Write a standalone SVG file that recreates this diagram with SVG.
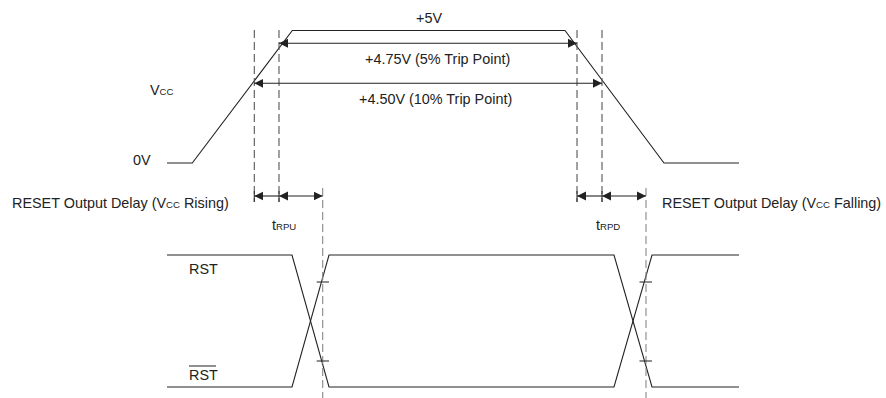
<svg xmlns="http://www.w3.org/2000/svg" width="886" height="398" viewBox="0 0 886 398">
<style>
text{font-family:"Liberation Sans",Arial,sans-serif;font-size:14.4px;fill:#222}
.sub{font-size:9.6px}
.wave{fill:none;stroke:#222;stroke-width:1.1}
.dash{fill:none;stroke:#555;stroke-width:1.1;stroke-dasharray:8,4}
.dash2{fill:none;stroke:#888;stroke-width:1.1;stroke-dasharray:8,4}
.dim{fill:none;stroke:#222;stroke-width:1.1}
.tick{fill:none;stroke:#333;stroke-width:1.1}
</style>
<defs>
<marker id="ah" viewBox="0 0 10 10" refX="10" refY="5" markerWidth="9" markerHeight="10" markerUnits="userSpaceOnUse" orient="auto-start-reverse">
<path d="M0,0 L10,5 L0,10 Z" fill="#222"/>
</marker>
</defs>
<rect width="886" height="398" fill="#fff"/>
<g id="vcc-waveform">
<polyline class="wave" points="167,163 192.3,163 292.3,30.5 565,30.5 664,163 739,163"/>
<text x="150" y="95">V<tspan class="sub">CC</tspan></text>
<text x="133" y="165">0V</text>
</g>
<g id="rst-waveform">
<polyline class="wave" points="167,255 292,255 329,387 614,387 652,255 739,255"/>
<text x="189" y="274">RST</text>
</g>
<g id="rstbar-waveform">
<polyline class="wave" points="167,387 292,387 329,255 614,255 652,387 739,387"/>
<text x="189" y="380">RST</text>
<line class="tick" x1="189" y1="366" x2="216" y2="366"/>
</g>
<g id="connectors">
<line class="dash" x1="254.3" y1="30" x2="254.3" y2="202"/>
<line class="dash" x1="279" y1="30" x2="279" y2="202"/>
<line class="dash" x1="577" y1="30" x2="577" y2="202"/>
<line class="dash" x1="602" y1="30" x2="602" y2="202"/>
<line class="tick" x1="254.3" y1="191" x2="254.3" y2="202"/>
<line class="tick" x1="279" y1="191" x2="279" y2="202"/>
<line class="tick" x1="577" y1="191" x2="577" y2="202"/>
<line class="tick" x1="602" y1="191" x2="602" y2="202"/>
<line class="dash2" x1="322.7" y1="188" x2="322.7" y2="398"/>
<line class="dash2" x1="646" y1="188" x2="646" y2="398"/>
<line class="dim" x1="279" y1="43.3" x2="577" y2="43.3" marker-start="url(#ah)" marker-end="url(#ah)"/>
<line class="dim" x1="254.3" y1="83.3" x2="602" y2="83.3" marker-start="url(#ah)" marker-end="url(#ah)"/>
<line class="dim" x1="254.3" y1="196" x2="279" y2="196" marker-start="url(#ah)"/>
<line class="dim" x1="279" y1="196" x2="322.7" y2="196" marker-start="url(#ah)" marker-end="url(#ah)"/>
<line class="dim" x1="577" y1="196" x2="602" y2="196" marker-start="url(#ah)"/>
<line class="dim" x1="602" y1="196" x2="646" y2="196" marker-start="url(#ah)" marker-end="url(#ah)"/>
<line class="tick" x1="316.7" y1="282" x2="329" y2="282"/>
<line class="tick" x1="316.7" y1="361" x2="329" y2="361"/>
<line class="tick" x1="639.5" y1="282" x2="652" y2="282"/>
<line class="tick" x1="639.5" y1="361" x2="652" y2="361"/>
</g>
<g id="labels">
<text x="416" y="23">+5V</text>
<text x="365" y="64">+4.75V (5% Trip Point)</text>
<text x="359" y="104">+4.50V (10% Trip Point)</text>
<text x="12" y="208">RESET Output Delay (V<tspan class="sub">CC</tspan> Rising)</text>
<text x="662" y="208">RESET Output Delay (V<tspan class="sub">CC</tspan> Falling)</text>
<text x="272" y="230">t<tspan class="sub">RPU</tspan></text>
<text x="596" y="230">t<tspan class="sub">RPD</tspan></text>
</g>
</svg>
